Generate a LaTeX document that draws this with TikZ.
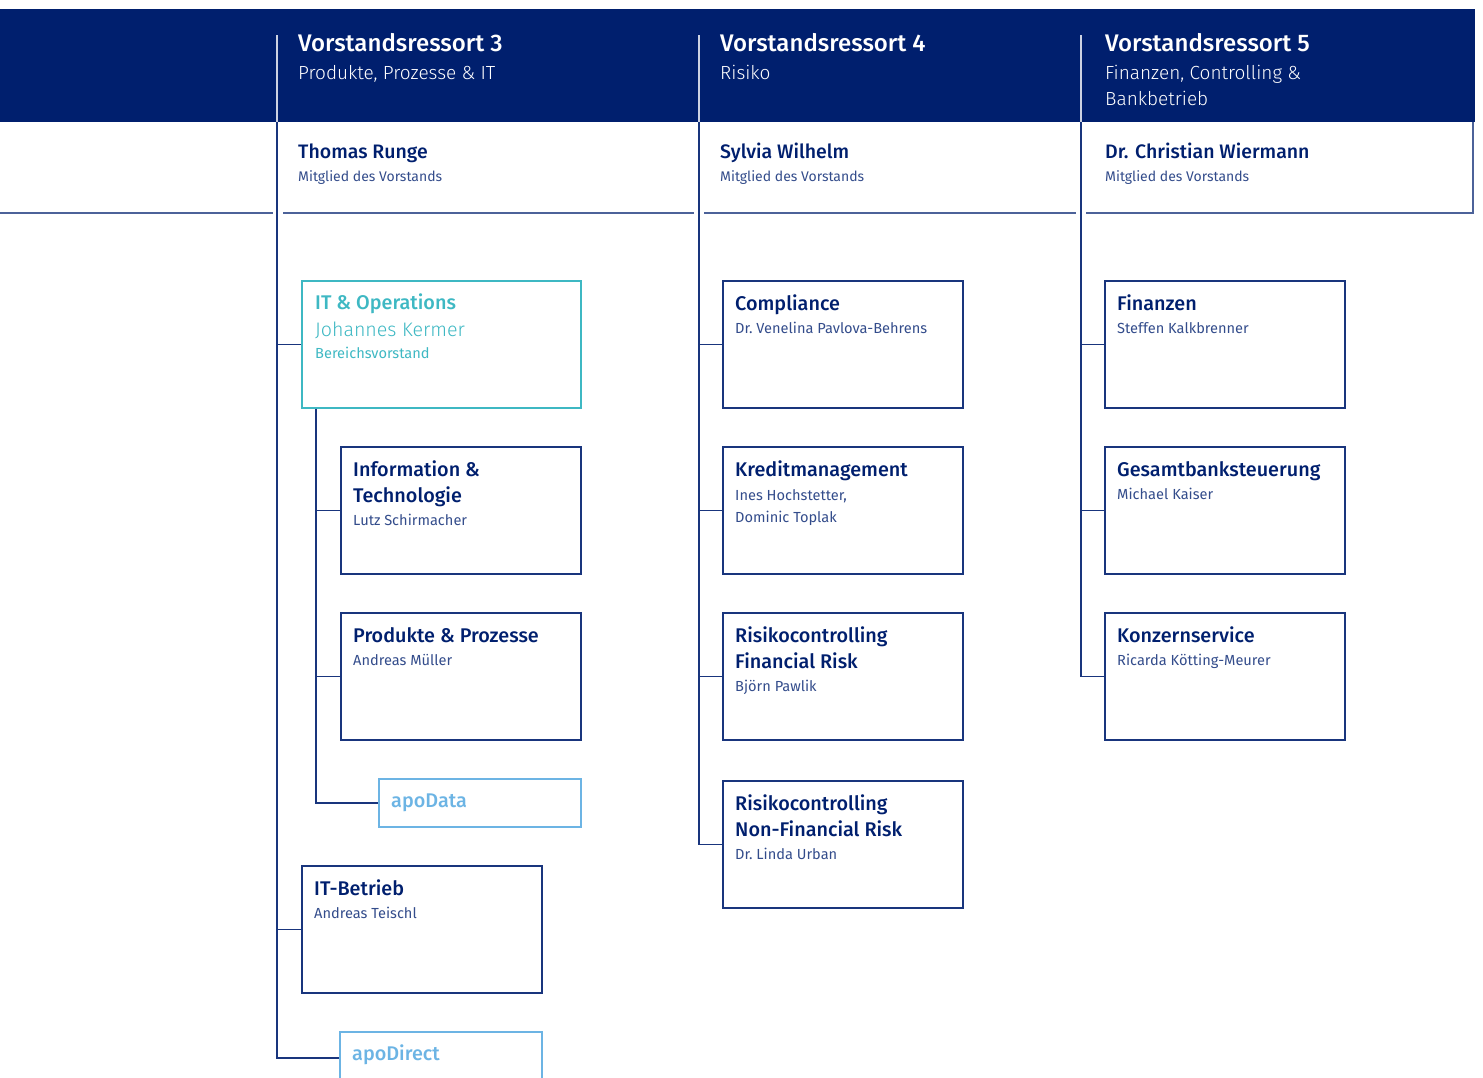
\documentclass[tikz,border=0pt]{standalone}
\usepackage{fontspec}
\setmainfont{Fira Sans}
\newfontfamily\mittel{Fira Sans Medium}
\newfontfamily\leicht{Fira Sans Light}
\usetikzlibrary{positioning}

\definecolor{apoNavy}{RGB}{0,31,110}
\definecolor{apoTeal}{RGB}{62,184,195}
\definecolor{apoHell}{RGB}{108,180,228}

\newcommand{\person}[1]{{\rmfamily\fontsize{14.6}{26}\selectfont\color{apoNavy!80}#1}}

\tikzset{
	kasten/.style={draw=apoNavy!90,line width=1.6pt,anchor=north west,minimum width=240pt,minimum height=127pt,inner sep=0pt},
	itkasten/.style={kasten,draw=apoTeal,minimum width=279pt},
	apokasten/.style={kasten,draw=apoHell,minimum width=202pt,minimum height=48pt},
	inhalt/.style={anchor=base west,inner sep=0pt,align=left,text width=222pt,text=apoNavy,font=\mittel\fontsize{19.8}{26}\selectfont,
		execute at begin node={\frenchspacing\spaceskip=0pt\xspaceskip=0pt}},
	linie/.style={draw=apoNavy!90,line width=1.5pt},
	kopflinie/.style={draw=white!80!apoNavy,line width=1.2pt},
	trennlinie/.style={draw=apoNavy!70,line width=1.6pt},
	ressort/.style={anchor=base west,inner sep=0pt,text=white,font=\mittel\fontsize{24}{26}\selectfont},
	bereich/.style={anchor=base west,inner sep=0pt,align=left,text width=250pt,text=white,font=\leicht\fontsize{19}{26}\selectfont,
		execute at begin node={\spaceskip=0pt\xspaceskip=0pt}},
	vorstand/.style={anchor=base west,inner sep=0pt,text=apoNavy,font=\mittel\fontsize{19.5}{24}\selectfont},
	mitglied/.style={anchor=base west,inner sep=0pt,text=apoNavy!80,font=\fontsize{14}{18}\selectfont}
}

\begin{document}
\begin{tikzpicture}[x=1pt,y=-1pt]
\useasboundingbox (0,0) rectangle (1483,1077);

% Kopfband
\fill[apoNavy] (0,9) rectangle (1475,122);
\coordinate (bandunten) at (0,122);
\coordinate (s3) at (277,35);
\coordinate (s4) at (699,35);
\coordinate (s5) at (1081,35);
\draw[kopflinie] (s3) -- (s3 |- bandunten);
\draw[kopflinie] (s4) -- (s4 |- bandunten);
\draw[kopflinie] (s5) -- (s5 |- bandunten);

\node[ressort] (r3) at (298,51) {Vorstandsressort 3};
\node[bereich] (r3b) at (298,79) {Produkte, Prozesse \& IT};
\node[ressort] (r4) at (720,51) {Vorstandsressort 4};
\node[bereich] (r4b) at (720,79) {Risiko};
\node[ressort] (r5) at (1105,51) {Vorstandsressort 5};
\node[bereich] (r5b) at (1105,79) {Finanzen, Controlling \&\\Bankbetrieb};

\node[vorstand] (runge) at (298,158) {Thomas Runge};
\node[mitglied] (runge-m) at (298,181.5) {Mitglied des Vorstands};
\node[vorstand] (wilhelm) at (720,158) {Sylvia Wilhelm};
\node[mitglied] (wilhelm-m) at (720,181.5) {Mitglied des Vorstands};
\node[vorstand] (wiermann) at (1105,158) {Dr. Christian Wiermann};
\node[mitglied] (wiermann-m) at (1105,181.5) {Mitglied des Vorstands};

\draw[trennlinie] (0,213) -- (273,213);
\draw[trennlinie] (283,213) -- (694,213);
\draw[trennlinie] (704,213) -- (1076,213);
\draw[trennlinie] (1086,213) -- (1473,213) -- (1473,122);

% Ressort 3
\node[itkasten] (itops) at (301,280) {};
\node[inhalt,text=apoTeal] (itops-t) at ([shift={(14,29)}]itops.north west) {IT \& Operations\\[1.7pt]{\leicht\fontsize{19.6}{26}\selectfont Johannes Kermer}\\[-4.4pt]{\rmfamily\fontsize{14.6}{26}\selectfont Bereichsvorstand}};
\node[kasten] (infotech) at (340,446) {};
\node[inhalt] (infotech-t) at ([shift={(13,30)}]infotech.north west) {Information \&\\Technologie\\[-2.5pt]\person{Lutz Schirmacher}};
\node[kasten] (prodproz) at (340,612) {};
\node[inhalt] (prodproz-t) at ([shift={(13,30)}]prodproz.north west) {Produkte \& Prozesse\\[-2.5pt]\person{Andreas Müller}};
\node[apokasten] (apodata) at (378,778) {};
\node[inhalt,text=apoHell] (apodata-t) at ([shift={(13,29)}]apodata.north west) {apoData};
\node[kasten] (itbetrieb) at (301,865) {};
\node[inhalt] (itbetrieb-t) at ([shift={(13,30)}]itbetrieb.north west) {IT-Betrieb\\[-2.5pt]\person{Andreas Teischl}};
\node[apokasten,minimum height=52pt] (apodirect) at (339,1031) {};
\node[inhalt,text=apoHell] (apodirect-t) at ([shift={(13,29)}]apodirect.north west) {apoDirect};

\coordinate (u3) at ([xshift=15pt]itops.south west);
\draw[linie] (s3 |- bandunten) -- (s3 |- apodirect.west) -- (apodirect.west);
\draw[linie] (s3 |- itops.west) -- (itops.west);
\draw[linie] (s3 |- itbetrieb.west) -- (itbetrieb.west);
\draw[linie] (u3) |- (apodata.west);
\draw[linie] (u3 |- infotech.west) -- (infotech.west);
\draw[linie] (u3 |- prodproz.west) -- (prodproz.west);

% Ressort 4
\node[kasten] (compliance) at (722,280) {};
\node[inhalt] (compliance-t) at ([shift={(13,30)}]compliance.north west) {Compliance\\[-2.5pt]\person{Dr. Venelina Pavlova-Behrens}};
\node[kasten] (kredit) at (722,446) {};
\node[inhalt] (kredit-t) at ([shift={(13,30)}]kredit.north west) {Kreditmanagement\\[-2pt]\person{Ines Hochstetter,}\\[-4pt]\person{Dominic Toplak}};
\node[kasten] (rfr) at (722,612) {};
\node[inhalt] (rfr-t) at ([shift={(13,30)}]rfr.north west) {Risikocontrolling\\Financial Risk\\[-2.5pt]\person{Björn Pawlik}};
\node[kasten] (rnfr) at (722,780) {};
\node[inhalt] (rnfr-t) at ([shift={(13,30)}]rnfr.north west) {Risikocontrolling\\Non-Financial Risk\\[-2.5pt]\person{Dr. Linda Urban}};

\draw[linie] (s4 |- bandunten) -- (s4 |- rnfr.west) -- (rnfr.west);
\draw[linie] (s4 |- compliance.west) -- (compliance.west);
\draw[linie] (s4 |- kredit.west) -- (kredit.west);
\draw[linie] (s4 |- rfr.west) -- (rfr.west);

% Ressort 5
\node[kasten] (finanzen) at (1104,280) {};
\node[inhalt] (finanzen-t) at ([shift={(13,30)}]finanzen.north west) {Finanzen\\[-2.5pt]\person{Steffen Kalkbrenner}};
\node[kasten] (gbs) at (1104,446) {};
\node[inhalt] (gbs-t) at ([shift={(13,30)}]gbs.north west) {Gesamtbanksteuerung\\[-2.5pt]\person{Michael Kaiser}};
\node[kasten] (konzern) at (1104,612) {};
\node[inhalt] (konzern-t) at ([shift={(13,30)}]konzern.north west) {Konzernservice\\[-2.5pt]\person{Ricarda Kötting-Meurer}};

\draw[linie] (s5 |- bandunten) -- (s5 |- konzern.west) -- (konzern.west);
\draw[linie] (s5 |- finanzen.west) -- (finanzen.west);
\draw[linie] (s5 |- gbs.west) -- (gbs.west);
\end{tikzpicture}
\end{document}
